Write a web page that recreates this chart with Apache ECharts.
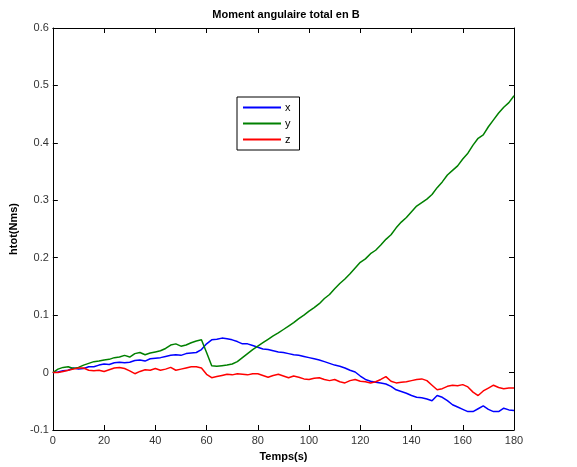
<!DOCTYPE html>
<html>
<head>
<meta charset="utf-8">
<script src="https://cdn.jsdelivr.net/npm/echarts@6/dist/echarts.min.js"></script>
<style>html,body{margin:0;padding:0;background:#fff;}#c{width:577px;height:467px;}</style>
</head>
<body>
<div id="c"></div>
<script>
var time = [0,2,4,6,8,10,12,14,16,18,20,22,24,26,28,30,32,34,36,38,40,42,44,46,48,50,52,54,56,58,60,62,64,66,68,70,72,74,76,78,80,82,84,86,88,90,92,94,96,98,100,102,104,106,108,110,112,114,116,118,120,122,124,126,128,130,132,134,136,138,140,142,144,146,148,150,152,154,156,158,160,162,164,166,168,170,172,174,176,178,180];
var xVals = [0.000,0.001,0.003,0.004,0.008,0.006,0.007,0.010,0.010,0.013,0.015,0.014,0.017,0.018,0.017,0.018,0.021,0.022,0.020,0.024,0.025,0.026,0.028,0.030,0.031,0.030,0.033,0.034,0.035,0.040,0.050,0.057,0.058,0.060,0.059,0.057,0.054,0.050,0.050,0.047,0.044,0.041,0.040,0.038,0.036,0.035,0.033,0.031,0.030,0.028,0.026,0.024,0.022,0.019,0.016,0.013,0.011,0.008,0.004,0.001,-0.006,-0.012,-0.015,-0.017,-0.018,-0.020,-0.024,-0.030,-0.033,-0.036,-0.040,-0.043,-0.044,-0.046,-0.049,-0.040,-0.043,-0.049,-0.056,-0.060,-0.064,-0.068,-0.068,-0.063,-0.058,-0.064,-0.068,-0.068,-0.062,-0.065,-0.066];
var yVals = [0.000,0.006,0.009,0.010,0.007,0.009,0.013,0.016,0.019,0.020,0.022,0.023,0.026,0.027,0.030,0.027,0.033,0.035,0.031,0.034,0.036,0.038,0.042,0.048,0.050,0.046,0.048,0.052,0.055,0.057,0.035,0.012,0.011,0.012,0.013,0.015,0.019,0.026,0.033,0.040,0.046,0.052,0.058,0.064,0.069,0.075,0.081,0.087,0.094,0.100,0.107,0.113,0.120,0.129,0.136,0.146,0.155,0.163,0.172,0.182,0.192,0.198,0.207,0.213,0.222,0.232,0.240,0.252,0.262,0.270,0.280,0.290,0.296,0.302,0.310,0.322,0.332,0.344,0.352,0.360,0.372,0.382,0.396,0.408,0.414,0.428,0.440,0.452,0.462,0.470,0.482];
var zVals = [0.000,0.000,0.002,0.004,0.006,0.008,0.008,0.004,0.003,0.004,0.002,0.005,0.008,0.009,0.007,0.003,-0.002,0.002,0.005,0.004,0.007,0.004,0.006,0.009,0.004,0.006,0.008,0.010,0.010,0.008,-0.003,-0.009,-0.007,-0.005,-0.003,-0.004,-0.002,-0.003,-0.004,-0.002,-0.002,-0.005,-0.008,-0.005,-0.003,-0.006,-0.009,-0.006,-0.008,-0.011,-0.012,-0.010,-0.009,-0.012,-0.014,-0.012,-0.016,-0.018,-0.014,-0.012,-0.015,-0.016,-0.018,-0.016,-0.012,-0.007,-0.015,-0.018,-0.017,-0.016,-0.014,-0.012,-0.011,-0.014,-0.022,-0.030,-0.028,-0.024,-0.022,-0.023,-0.021,-0.025,-0.034,-0.040,-0.032,-0.027,-0.022,-0.026,-0.028,-0.027,-0.027];
var seriesNames = ['x','y','z'];

function pairs(vals){ return time.map(function(t,i){ return [t, vals[i]]; }); }

var chart = echarts.init(document.getElementById('c'), null, {renderer:'canvas'});
var font = 'Liberation Sans, Arial, sans-serif';
var axisLineStyle = {color:'#000', width:1};
var colors = ['#0000ff','#008000','#ff0000'];
var data = [xVals, yVals, zVals];
chart.setOption({
  animation:false,
  backgroundColor:'#fff',
  title:{text:'Moment angulaire total en B', left:281, top:4, textAlign:'center',
    textStyle:{fontFamily:font, fontSize:11, fontWeight:'bold', color:'#000'}},
  legend:{orient:'vertical', left:237, top:97, padding:[5,9,5,6], itemGap:5,
    itemWidth:38, itemHeight:2, icon:'rect', backgroundColor:'#fff', borderColor:'#000', borderWidth:1,
    textStyle:{fontFamily:font, fontSize:11, color:'#000', padding:[0,0,0,-1]},
    data:seriesNames},
  grid:{left:48, right:63, top:28, bottom:32, containLabel:false},
  xAxis:[{type:'value', min:0, max:180, interval:20, position:'bottom',
    name:'Temps(s)', nameLocation:'middle', nameGap:21,
    nameTextStyle:{fontFamily:font, fontSize:11, fontWeight:'bold', color:'#000'},
    axisLine:{show:true, onZero:false, lineStyle:axisLineStyle},
    axisTick:{show:true, inside:true, length:5, lineStyle:axisLineStyle},
    axisLabel:{fontFamily:font, fontSize:11, color:'#333', margin:5},
    splitLine:{show:false}},
   {type:'value', min:0, max:180, interval:20, position:'top',
    axisLine:{show:true, onZero:false, lineStyle:axisLineStyle},
    axisTick:{show:true, inside:true, length:5, lineStyle:axisLineStyle},
    axisLabel:{show:false}, splitLine:{show:false}}],
  yAxis:[{type:'value', min:-0.1, max:0.6, interval:0.1, position:'left',
    name:'htot(Nms)', nameLocation:'middle', nameGap:27, nameRotate:90,
    nameTextStyle:{fontFamily:font, fontSize:11, fontWeight:'bold', color:'#000'},
    axisLine:{show:true, onZero:false, lineStyle:axisLineStyle},
    axisTick:{show:true, inside:true, length:5, lineStyle:axisLineStyle},
    axisLabel:{fontFamily:font, fontSize:11, color:'#333', margin:4,
      formatter:function(v){ return String(+v.toFixed(1)); }},
    splitLine:{show:false}},
   {type:'value', min:-0.1, max:0.6, interval:0.1, position:'right',
    axisLine:{show:true, onZero:false, lineStyle:axisLineStyle},
    axisTick:{show:true, inside:true, length:5, lineStyle:axisLineStyle},
    axisLabel:{show:false}, splitLine:{show:false}}],
  series: seriesNames.map(function(n,i){
    return {name:n, type:'line', xAxisIndex:0, yAxisIndex:0, data:pairs(data[i]),
      showSymbol:false, symbol:'none', color:colors[i],
      lineStyle:{color:colors[i], width:1.5}};
  })
});
</script>
</body>
</html>
